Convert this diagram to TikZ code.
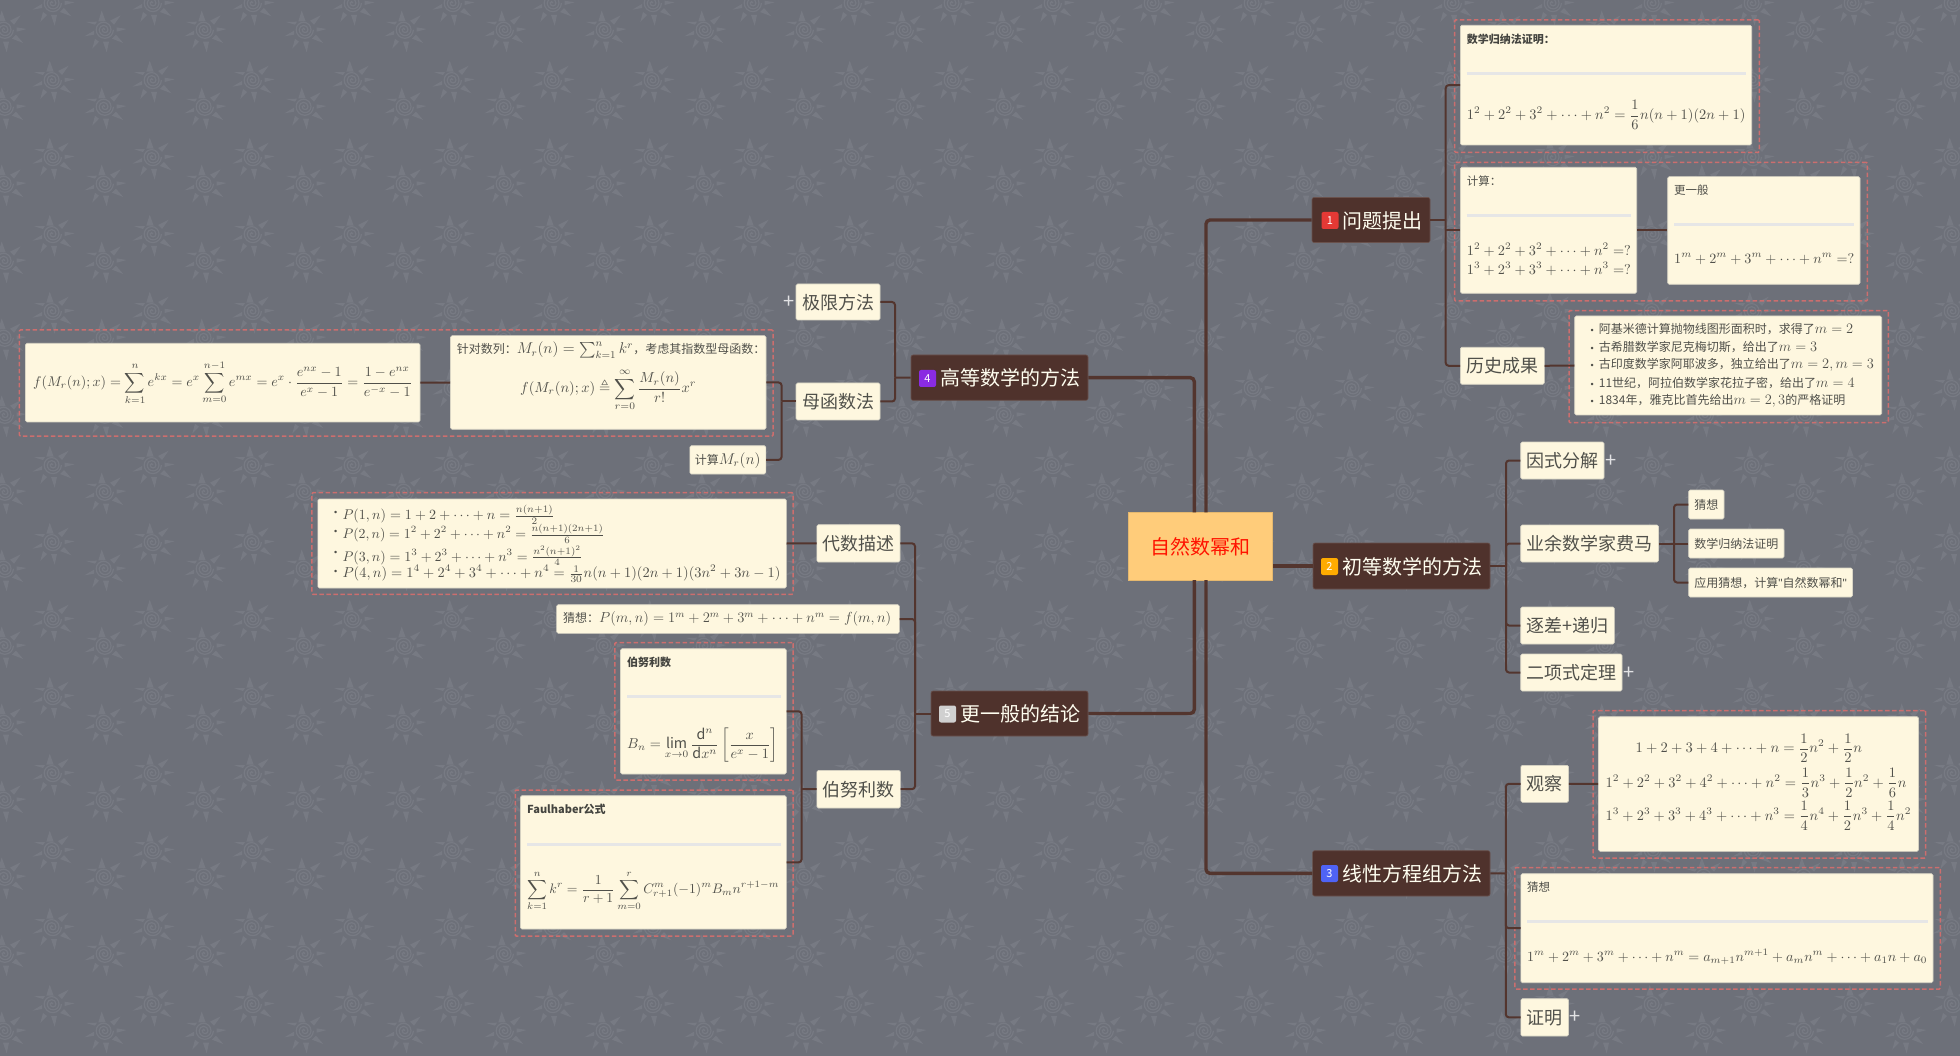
\documentclass[tikz,border=0pt]{standalone}
\usepackage{amsmath,amssymb,graphicx}
\usepackage{fontspec}
\setmainfont{Noto Sans CJK SC}
\newfontfamily\latinf{Liberation Sans}
\definecolor{bgc}{HTML}{6D7079}
\definecolor{sunc}{HTML}{777A83}
\definecolor{linec}{HTML}{53352E}
\definecolor{darkc}{HTML}{4F322C}
\definecolor{creamc}{HTML}{FEF7DF}
\definecolor{edgec}{HTML}{D9D5C5}
\definecolor{dashc}{HTML}{CC6E6E}
\definecolor{rulec}{HTML}{E6E6E6}
\definecolor{txtc}{HTML}{50504A}
\definecolor{rootc}{HTML}{FFCC7A}
\definecolor{ba1}{HTML}{E53935}
\definecolor{ba2}{HTML}{FFAB00}
\definecolor{ba3}{HTML}{4F63F5}
\definecolor{ba4}{HTML}{8A2BE2}
\definecolor{ba5}{HTML}{D0D0D0}
\tikzset{
  conna/.style={draw=linec,line width=3.4pt,rounded corners=4pt},
  connb/.style={draw=linec,line width=2pt,rounded corners=3pt},
  mainbox/.style={fill=darkc,draw=darkc!85!white,line width=.6pt,rounded corners=2pt,inner sep=0pt,text=white!94!yellow,font=\fontsize{20}{24}\selectfont,text height=18pt,text depth=1.8pt},
  rootbox/.style={fill=rootc,draw=rootc!90!black,line width=.6pt,inner sep=0pt,text=red!85!orange,font=\fontsize{20}{24}\selectfont,text height=18pt,text depth=1.8pt},
  subbox/.style={fill=creamc,draw=edgec,line width=.6pt,rounded corners=1.5pt,inner sep=0pt,text=txtc,font=\fontsize{18}{22}\selectfont,text height=16pt,text depth=1.7pt},
  smallbox/.style={subbox,font=\fontsize{12}{14}\selectfont,text height=10.5pt,text depth=1.3pt},
  dashbox/.style={draw=dashc,line width=1.5pt,dash pattern=on 4.5pt off 2.5pt,rounded corners=1pt,inner sep=0pt},
  rulel/.style={draw=rulec,line width=3pt},
  ftxt/.style={inner sep=0pt,anchor=west,text=txtc},
  ttl/.style={ftxt,font=\fontsize{11.5}{14}\selectfont},
  ttlb/.style={ftxt,font=\bfseries\fontsize{11}{14}\selectfont,text=txtc!85!black},
  hist/.style={ftxt,font=\fontsize{12}{14}\selectfont},
  badge/.style={rounded corners=2pt,minimum size=17pt,inner sep=0pt,text=white,font=\fontsize{11}{12}\selectfont},
  plusm/.style={inner sep=0pt,text=white!80!bgc,font=\fontsize{20}{20}\selectfont},
  sunmark/.pic={
    \fill[sunc] (-3.3,-19.3)--(-6.7,-8.3)--(.7,-8.3)--cycle
      (15.7,-14.3)--(5,-9)--(9,-5)--cycle
      (21.7,-.7)--(11.7,-2.3)--(11.7,2)--cycle
      (18.3,13.3)--(7,9)--(11,5)--cycle
      (1.7,22.7)--(-2,12)--(4,12)--cycle
      (-12.7,19)--(-10,9)--(-6,12)--cycle
      (-20.7,6.7)--(-11,1)--(-11,5)--cycle
      (-19,-7.7)--(-10,-5)--(-8,-8)--cycle;
    \draw[sunc,line width=1.2pt] (0,0) arc[start angle=0,end angle=180,radius=1.4pt]
      arc[start angle=180,end angle=360,radius=2.9pt]
      arc[start angle=0,end angle=180,radius=4.4pt]
      arc[start angle=180,end angle=360,radius=5.9pt]
      arc[start angle=0,end angle=180,radius=7.4pt]
      arc[start angle=180,end angle=360,radius=8.6pt];
  }
}
% style, name, x1, y1, x2, y2; the node text follows
\newcommand\bx[6]{%
  \pgfmathsetmacro\bxcx{(#3+#5)/2}%
  \pgfmathsetmacro\bxcy{(#4+#6)/2}%
  \pgfmathsetmacro\bxw{#5-#3}%
  \pgfmathsetmacro\bxh{#6-#4}%
  \node[#1,minimum width=\bxw pt,minimum height=\bxh pt] (#2) at (\bxcx,\bxcy)%
}
% math fitted to a width
\newcommand\fw[2]{\resizebox{#1pt}{!}{$\displaystyle #2$}}
\newcommand\mm[1]{\scalebox{1.2}{$#1$}}
\newcommand\bul{\makebox[8.2pt][l]{\latinf\fontsize{9}{9}\selectfont •}}
\begin{document}
\begin{tikzpicture}[x=1pt,y=-1pt]
\useasboundingbox (0,0) rectangle (1960,1056);
\fill[bgc] (0,0) rectangle (1960,1056);
\foreach \i in {0,...,19}\foreach \j in {0,...,13}{
  \pic at ({53+100*\i},{3+77*\j}) {sunmark};
  \pic at ({5+100*\i},{29.7+77*\j}) {sunmark};
}
% dashed frames
\bx{dashbox}{da}{1454.7}{20}{1759.3}{152.3}{};
\bx{dashbox}{db}{1454.7}{162.3}{1867.3}{301}{};
\bx{dashbox}{dc}{1569}{310.7}{1888.3}{422.7}{};
\bx{dashbox}{dd}{1593}{710.7}{1925.5}{858}{};
\bx{dashbox}{de}{1514.8}{867.7}{1940.4}{989}{};
\bx{dashbox}{df}{19.4}{330}{773}{436}{};
\bx{dashbox}{dg}{311.9}{492.7}{793}{594.3}{};
\bx{dashbox}{dh}{614.8}{642.7}{793}{780}{};
\bx{dashbox}{di}{515.3}{790}{793}{936}{};
% root and main topics
\bx{rootbox}{root}{1128}{512.3}{1272.5}{580}{自然数幂和};
\bx{mainbox}{n1}{1312}{197.5}{1430}{242.5}{\hspace*{22pt}问题提出};
\bx{mainbox}{n2}{1313}{543}{1490}{589}{\hspace*{22pt}初等数学的方法};
\bx{mainbox}{n3}{1312.6}{850.7}{1490}{896}{\hspace*{22pt}线性方程组方法};
\bx{mainbox}{n4}{911}{355}{1088}{400.3}{\hspace*{22pt}高等数学的方法};
\bx{mainbox}{n5}{931}{691}{1088}{736}{\hspace*{22pt}更一般的结论};
\node[badge,fill=ba1] (i1) at (1330,220.5) {1};
\node[badge,fill=ba2] (i2) at (1329.5,566.5) {2};
\node[badge,fill=ba3] (i3) at (1329.5,873.5) {3};
\node[badge,fill=ba4] (i4) at (927.5,378.5) {4};
\node[badge,fill=ba5] (i5) at (947.5,714) {5};
% branch 1
\bx{subbox}{ba}{1460.3}{25.3}{1751.7}{145}{};
\node[ttlb] (baT) at (1466.7,39.3) {数学归纳法证明：};
\draw[rulel] (1466.7,73.3) -- (1746,73.3);
\node[ftxt] (baF) at (1466.7,115) {\fw{278.5}{1^2+2^2+3^2+\cdots+n^2=\frac{1}{6}n(n+1)(2n+1)}};
\bx{subbox}{bb}{1460.3}{167.3}{1636.7}{293.3}{};
\node[ttl] (bbT) at (1466.7,181) {计算：};
\draw[rulel] (1466.7,215.3) -- (1631,215.3);
\node[ftxt] (bbF) at (1466.7,250) {\fw{164}{1^2+2^2+3^2+\cdots+n^2=?}};
\node[ftxt] (bbG) at (1466.7,268.5) {\fw{164}{1^3+2^3+3^3+\cdots+n^3=?}};
\bx{subbox}{bc}{1667.7}{176.7}{1860}{284.3}{};
\node[ttl] (bcT) at (1674,190) {更一般};
\draw[rulel] (1674,224.3) -- (1854,224.3);
\node[ftxt] (bcF) at (1674,259.3) {\fw{180}{1^m+2^m+3^m+\cdots+n^m=?}};
\bx{subbox}{bd}{1460.3}{347.3}{1544.3}{384.3}{历史成果};
\bx{subbox}{be}{1574.7}{316}{1881.7}{415}{};
\foreach \nm/\yy/\tx in {
  he/329/{阿基米德计算抛物线图形面积时，求得了\mm{m=2}},
  hf/347/{古希腊数学家尼克梅切斯，给出了\mm{m=3}},
  hg/365/{古印度数学家阿耶波多，独立给出了\mm{m=2,m=3}},
  hh/383.3/{11世纪，阿拉伯数学家花拉子密，给出了\mm{m=4}},
  hi/401/{1834年，雅克比首先给出\mm{m=2,3}的严格证明}}{
  \node[hist] (\nm) at (1590.5,\yy) {\bul\tx};
}
% branch 2
\bx{subbox}{ca}{1520.7}{442}{1604}{479}{因式分解};
\bx{subbox}{cb}{1520.7}{525}{1658.5}{562}{业余数学家费马};
\bx{subbox}{cc}{1520.7}{607}{1614.4}{644}{逐差+递归};
\bx{subbox}{cd}{1520.7}{654}{1622}{691}{二项式定理};
\bx{smallbox}{ce}{1688.7}{490}{1724}{519}{猜想};
\bx{smallbox}{cf}{1688.7}{529}{1784}{558}{数学归纳法证明};
\bx{smallbox}{cg}{1688.7}{568}{1852.5}{597}{应用猜想，计算{\latinf "}自然数幂和{\latinf "}};
\node[plusm] (cp) at (1611,461) {+};
\node[plusm] (cq) at (1629,673) {+};
% branch 3
\bx{subbox}{ga}{1520.8}{765.3}{1568.6}{802.3}{观察};
\bx{subbox}{gb}{1598.5}{716.7}{1918.6}{851.3}{};
\node[ftxt] (gbA) at (1635.3,748.3) {\fw{226.5}{1+2+3+4+\cdots+n=\frac{1}{2}n^2+\frac{1}{2}n}};
\node[ftxt] (gbB) at (1605.4,782.7) {\fw{300.8}{1^2+2^2+3^2+4^2+\cdots+n^2=\frac{1}{3}n^3+\frac{1}{2}n^2+\frac{1}{6}n}};
\node[ftxt] (gbC) at (1605.4,815.7) {\fw{305.6}{1^3+2^3+3^3+4^3+\cdots+n^3=\frac{1}{4}n^4+\frac{1}{2}n^3+\frac{1}{4}n^2}};
\bx{subbox}{gc}{1520.8}{873.7}{1933}{982.7}{};
\node[ttl] (gcT) at (1527,887.3) {猜想};
\draw[rulel] (1527,921.7) -- (1927.6,921.7);
\node[ftxt] (gcF) at (1527,956.7) {\fw{400}{1^m+2^m+3^m+\cdots+n^m=a_{m+1}n^{m+1}+a_mn^m+\cdots+a_1n+a_0}};
\bx{subbox}{gd}{1520.8}{998.7}{1568.6}{1036}{证明};
\node[plusm] (gp) at (1575,1017) {+};
% branch 4
\bx{subbox}{pa}{796}{284}{880}{320}{极限方法};
\bx{subbox}{pb}{796}{383}{880}{420}{母函数法};
\node[plusm] (pp) at (789,302) {+};
\bx{subbox}{pc}{450.5}{335.7}{766}{429.3}{};
\node[ttl,font=\fontsize{12}{14}\selectfont] (pcT) at (456.6,350) {针对数列：\scalebox{1.3}{$M_r(n)=\sum_{k=1}^{n}k^r$}，考虑其指数型母函数：};
\node[ftxt] (pcF) at (520,390) {\fw{176}{f(M_r(n);x)\triangleq\sum_{r=0}^{\infty}\frac{M_r(n)}{r!}x^r}};
\bx{subbox}{pd}{25.5}{343.3}{420}{422}{};
\node[ftxt] (pdF) at (33,383) {\fw{379}{f(M_r(n);x)=\sum_{k=1}^{n}e^{kx}=e^x\sum_{m=0}^{n-1}e^{mx}=e^x\cdot\frac{e^{nx}-1}{e^x-1}=\frac{1-e^{nx}}{e^{-x}-1}}};
\bx{smallbox}{pe}{689.8}{445.7}{765.8}{474}{计算\scalebox{1.3}{$M_r(n)$}};
% branch 5
\bx{subbox}{ra}{816.8}{524.7}{900}{562}{代数描述};
\bx{subbox}{rb}{317.8}{499}{786.4}{588}{};
\foreach \nm/\yy/\ww/\tx in {
  rbA/515/212/{P(1,n)=1+2+\cdots+n=\tfrac{n(n+1)}{2}},
  rbB/534/262/{P(2,n)=1^2+2^2+\cdots+n^2=\tfrac{n(n+1)(2n+1)}{6}},
  rbC/555.7/240/{P(3,n)=1^3+2^3+\cdots+n^3=\tfrac{n^2(n+1)^2}{4}},
  rbD/574/438/{P(4,n)=1^4+2^4+3^4+\cdots+n^4=\tfrac{1}{30}n(n+1)(2n+1)(3n^2+3n-1)}}{
  \node[ftxt] (\nm) at (342.3,\yy) {\fw{\ww}{\tx}};
  \node[ftxt,text=txtc,font=\latinf\fontsize{9}{9}\selectfont] (\nm b) at (334,\yy-2) {•};
}
\bx{subbox}{rc}{556.6}{604.7}{899.4}{633.3}{};
\node[ftxt] (rcF) at (563,619) {\fontsize{12}{14}\selectfont 猜想：\resizebox{292pt}{!}{$P(m,n)=1^m+2^m+3^m+\cdots+n^m=f(m,n)$}};
\bx{subbox}{rd}{816.9}{770.3}{900.3}{808}{伯努利数};
\bx{subbox}{re}{620.5}{648.7}{786.3}{774}{};
\node[ttlb] (reT) at (627,662) {伯努利数};
\draw[rulel] (627,696.7) -- (780.5,696.7);
\node[ftxt] (reF) at (627,745) {\fw{151}{B_n=\lim_{x\to 0}\frac{\mathrm{d}^n}{\mathrm{d}x^n}\left[\frac{x}{e^x-1}\right]}};
\bx{subbox}{rf}{520.3}{795.7}{786.3}{929}{};
\node[ttlb] (rfT) at (527,809.3) {Faulhaber公式};
\draw[rulel] (527,844) -- (780.5,844);
\node[ftxt] (rfF) at (527,891) {\fw{252}{\sum_{k=1}^{n}k^r=\frac{1}{r+1}\sum_{m=0}^{r}C_{r+1}^{m}(-1)^mB_mn^{r+1-m}}};
% connectors
\coordinate (rTR) at (1206,512.3);
\coordinate (rBR) at (1206,580);
\coordinate (rTL) at (1194.3,512.3);
\coordinate (rBL) at (1194.3,580);
\draw[conna] (n1.west) -| (rTR);
\draw[conna] (n3.west) -| (rBR);
\draw[conna] (n4.east) -| (rTL);
\draw[conna] (n5.east) -| (rBL);
\draw[conna] (n2.west) -- (n2.west -| root.east);
\coordinate (t1) at (1445.7,220);
\coordinate (t2) at (1506,566);
\coordinate (t3) at (1674,543.5);
\coordinate (t4) at (1505.8,873.4);
\coordinate (t5) at (895,377.7);
\coordinate (t6) at (781.6,401.5);
\coordinate (t7) at (915,713.5);
\coordinate (t8) at (801.6,789.2);
\draw[connb] (n1.east) -- (t1);
\draw[connb] (ba.west) -| (t1);
\draw[connb] (bb.west) -- (bb.west -| t1);
\draw[connb] (bd.west) -| (t1);
\draw[connb] (bb.east) -- (bb.east -| bc.west);
\draw[connb] (bd.east) -- (be.west);
\draw[connb] (n2.east) -- (t2);
\draw[connb] (ca.west) -| (t2);
\draw[connb] (cb.west) -| (t2);
\draw[connb] (cc.west) -| (t2);
\draw[connb] (cd.west) -| (t2);
\draw[connb] (cb.east) -- (t3);
\draw[connb] (ce.west) -| (t3);
\draw[connb] (cf.west) -- (t3);
\draw[connb] (cg.west) -| (t3);
\draw[connb] (n3.east) -- (t4);
\draw[connb] (ga.west) -| (t4);
\draw[connb] (gc.west) -| (t4);
\draw[connb] (gd.west) -| (t4);
\draw[connb] (ga.east) -- (gb.west);
\draw[connb] (n4.west) -- (t5);
\draw[connb] (pa.east) -| (t5);
\draw[connb] (pb.east) -| (t5);
\draw[connb] (pb.west) -- (t6);
\draw[connb] (pc.east) -| (t6);
\draw[connb] (pe.east) -| (t6);
\draw[connb] (pc.west) -- (pd.east);
\draw[connb] (n5.west) -- (t7);
\draw[connb] (ra.east) -| (t7);
\draw[connb] (rc.east) -| (t7);
\draw[connb] (rd.east) -| (t7);
\draw[connb] (ra.west) -- (rb.east);
\draw[connb] (rd.west) -- (t8);
\draw[connb] (re.east) -| (t8);
\draw[connb] (rf.east) -| (t8);
\end{tikzpicture}
\end{document}
